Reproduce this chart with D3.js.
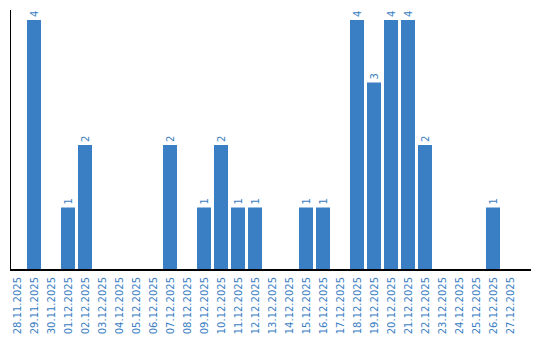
<!DOCTYPE html>
<html>
  <head>
    <title>Bars</title>
    <script src="https://cdn.jsdelivr.net/npm/d3@7"></script>
    <style>
      body { margin: 0; background: #fff; }
      text { font-family: "DejaVu Sans", sans-serif; font-size: 10px; }
    </style>
  </head>
  <body>
    <svg width="540" height="340" id="mainsvg"></svg>
    <script>
      const dates = ['28.11.2025', '29.11.2025', '30.11.2025', '01.12.2025', '02.12.2025', '03.12.2025',
        '04.12.2025', '05.12.2025', '06.12.2025', '07.12.2025', '08.12.2025', '09.12.2025',
        '10.12.2025', '11.12.2025', '12.12.2025', '13.12.2025', '14.12.2025', '15.12.2025',
        '16.12.2025', '17.12.2025', '18.12.2025', '19.12.2025', '20.12.2025', '21.12.2025',
        '22.12.2025', '23.12.2025', '24.12.2025', '25.12.2025', '26.12.2025', '27.12.2025'];
      const counts = [0, 4, 0, 1, 2, 0, 0, 0, 0, 2, 0, 1, 2, 1, 1, 0, 0, 1, 1, 0, 4, 3, 4, 4, 2, 0, 0, 0, 1, 0];

      const svg = d3.select('#mainsvg');
      const color = '#3a7ec3';
      const plot = {left: 10, right: 531, top: 10, bottom: 270};

      // band step 17px, bar 14px, flush with the y axis
      const xScale = d3.scaleBand()
        .domain(dates)
        .range([plot.left, 517])
        .paddingInner(3 / 17)
        .paddingOuter(0);

      const yScale = d3.scaleLinear()
        .domain([0, 4])
        .range([plot.bottom, 20]);

      const data = dates.map((d, i) => ({date: d, value: counts[i]}));

      svg.selectAll('rect.bar')
        .data(data.filter(d => d.value > 0))
        .enter().append('rect')
        .attr('class', 'bar')
        .attr('x', d => xScale(d.date))
        .attr('y', d => yScale(d.value))
        .attr('width', xScale.bandwidth())
        .attr('height', d => plot.bottom - yScale(d.value))
        .attr('fill', color);

      // value labels, rotated
      svg.selectAll('text.val')
        .data(data.filter(d => d.value > 0))
        .enter().append('text')
        .attr('class', 'val')
        .attr('transform', d => `translate(${xScale(d.date) + xScale.bandwidth() / 2}, ${yScale(d.value) - 3}) rotate(-90)`)
        .attr('dy', '0.35em')
        .attr('fill', color)
        .text(d => d.value);

      // axes lines
      svg.append('line')
        .attr('x1', plot.left + 0.5).attr('x2', plot.left + 0.5)
        .attr('y1', plot.top).attr('y2', plot.bottom)
        .attr('stroke', '#000').attr('stroke-width', 1);
      svg.append('line')
        .attr('x1', plot.left).attr('x2', plot.right)
        .attr('y1', plot.bottom).attr('y2', plot.bottom)
        .attr('stroke', '#000').attr('stroke-width', 2);

      // date labels
      svg.selectAll('text.date')
        .data(dates)
        .enter().append('text')
        .attr('class', 'date')
        .attr('transform', d => `translate(${xScale(d) + xScale.bandwidth() / 2}, ${plot.bottom + 7}) rotate(-90)`)
        .attr('text-anchor', 'end')
        .attr('dy', '0.35em')
        .attr('fill', color)
        .text(d => d);
    </script>
  </body>
</html>
